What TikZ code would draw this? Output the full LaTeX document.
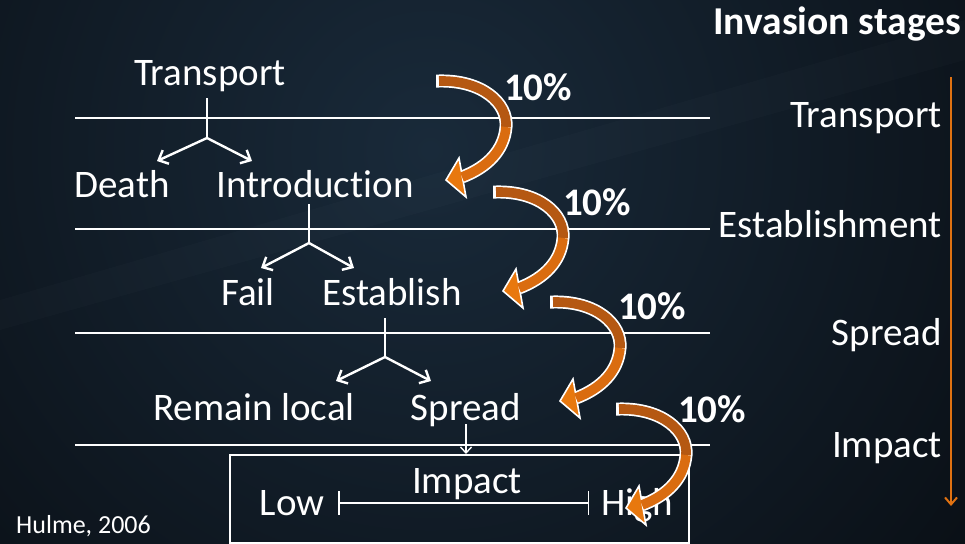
\documentclass[tikz,border=0pt]{standalone}
\usepackage{fontspec}
\setmainfont[Ligatures={NoCommon}]{Carlito}
\usetikzlibrary{arrows.meta}
\definecolor{bgbase}{HTML}{080C11}
\definecolor{bglight}{HTML}{192A3A}
\definecolor{orA}{HTML}{B55812}
\definecolor{orB}{HTML}{DA6C10}
\definecolor{orC}{HTML}{E8780E}
\definecolor{stageor}{HTML}{E07212}
\newcommand\bentarrow[2]{%
\begin{scope}[shift={(#1,#2)}]
 \draw[white,line width=13pt] (436,81) -- (439,81) .. controls (482,80) and (508,103) .. (506,127) .. controls (504,150) and (488,167) .. (462,177);
 \filldraw[fill=orC,draw=white,line width=1.6pt,line join=miter] (446,180) -- (459,158) -- (466,197) -- cycle;
 \draw[orA,line width=9.6pt] (439,81) .. controls (482,80) and (508,103) .. (506,127);
 \draw[orB,line width=9.6pt] (506,127) .. controls (504,150) and (488,167) .. (462,177);
\end{scope}}
\begin{document}
\begin{tikzpicture}[x=1pt,y=-1pt,
 lbl/.style={text=white,font=\fontsize{39}{44}\selectfont,inner sep=0pt,anchor=base},
 pct/.style={text=white,font=\fontsize{39}{44}\selectfont\bfseries,inner sep=0pt,anchor=base},
 rule/.style={white,line width=2.8pt},
 stem/.style={white,line width=2.4pt},
 branch/.style={white,line width=2.4pt,-{Straight Barb[length=8pt,width=15pt]}},
 ]
\useasboundingbox (0,0) rectangle (965,543);
\clip (0,0) rectangle (965,543);
\fill[bgbase] (0,0) rectangle (965,543);
\shade[inner color=bglight, outer color=bgbase] (430,150) circle[radius=760pt];
\fill[white,opacity=0.015] (0,300) -- (965,20) -- (965,60) -- (0,330) -- cycle;

% horizontal rules
\foreach \yy in {118,229,333,445} \draw[rule] (75,\yy) -- (710,\yy);

% tree texts
\node[lbl] (tr) at (210,85) {Transport};
\node[lbl] (death) at (122,197) {Death};
\node[lbl] (intro) at (315,197) {Introduction};
\node[lbl] (fail) at (248,305) {Fail};
\node[lbl] (estab) at (392,305) {Establish};
\node[lbl] (remain) at (254,420) {Remain local};
\node[lbl] (spread) at (466,420) {Spread};

% tree connectors
\coordinate (s1) at (207,98);  \coordinate (j1) at (207,138);
\coordinate (a1) at (157,161); \coordinate (b1) at (252,161);
\coordinate (s2) at (309,204); \coordinate (j2) at (309,243);
\coordinate (a2) at (261,268); \coordinate (b2) at (354,268);
\coordinate (s3) at (385,318); \coordinate (j3) at (385,357);
\coordinate (a3) at (336,381); \coordinate (b3) at (431,381);
\draw[stem] (s1) -- (j1); \draw[branch] (j1) -- (a1); \draw[branch] (j1) -- (b1);
\draw[stem] (s2) -- (j2); \draw[branch] (j2) -- (a2); \draw[branch] (j2) -- (b2);
\draw[stem] (s3) -- (j3); \draw[branch] (j3) -- (a3); \draw[branch] (j3) -- (b3);

% impact box
\node[draw=white,line width=1.5pt,minimum width=459pt,minimum height=88pt,anchor=north west,inner sep=0pt] (box) at (229,454) {};
\coordinate (sp) at (466,424);
\draw[white,line width=1.4pt,-{Straight Barb[length=6pt,width=11pt]}] (sp) -- (box.north -| sp);
\node[lbl] (imp) at (467,493) {Impact};
\node[lbl] (low) at (292,515) {Low};
\node[lbl,anchor=base west] (high) at (601,515) {High};
\coordinate (sl) at (338,503); \coordinate (sr) at (589,503);
\draw[white,line width=1.5pt,{Bar[width=24pt]}-{Bar[width=24pt]}] (sl) -- (sr);

% right side
\node[text=white,font=\fontsize{39.5}{44}\selectfont\bfseries,inner sep=0pt,anchor=base west] (title) at (713,35) {Invasion stages};
\node[lbl,anchor=base east] (st1) at (942,127) {Transport};
\node[lbl,anchor=base east] (st2) at (942,237) {Establishment};
\node[lbl,anchor=base east] (st3) at (942,345) {Spread};
\node[lbl,anchor=base east] (st4) at (942,457) {Impact};
\coordinate (ot) at (951,77); \coordinate (ob) at (951,506);
\draw[stageor,line width=2pt,-{Straight Barb[length=7pt,width=12pt]}] (ot) -- (ob);

\node[text=white,font=\fontsize{26}{30}\selectfont,inner sep=0pt,anchor=base west] (cite) at (16,533) {Hulme, 2006};

% curved arrows
\bentarrow{0}{0}
\bentarrow{57}{111}
\bentarrow{114}{221}
\bentarrow{180}{328}
\node[pct] (p1) at (538,100) {10\%};
\node[pct] (p2) at (597,215) {10\%};
\node[pct] (p3) at (652,319) {10\%};
\node[pct] (p4) at (712,422) {10\%};
\end{tikzpicture}
\end{document}
